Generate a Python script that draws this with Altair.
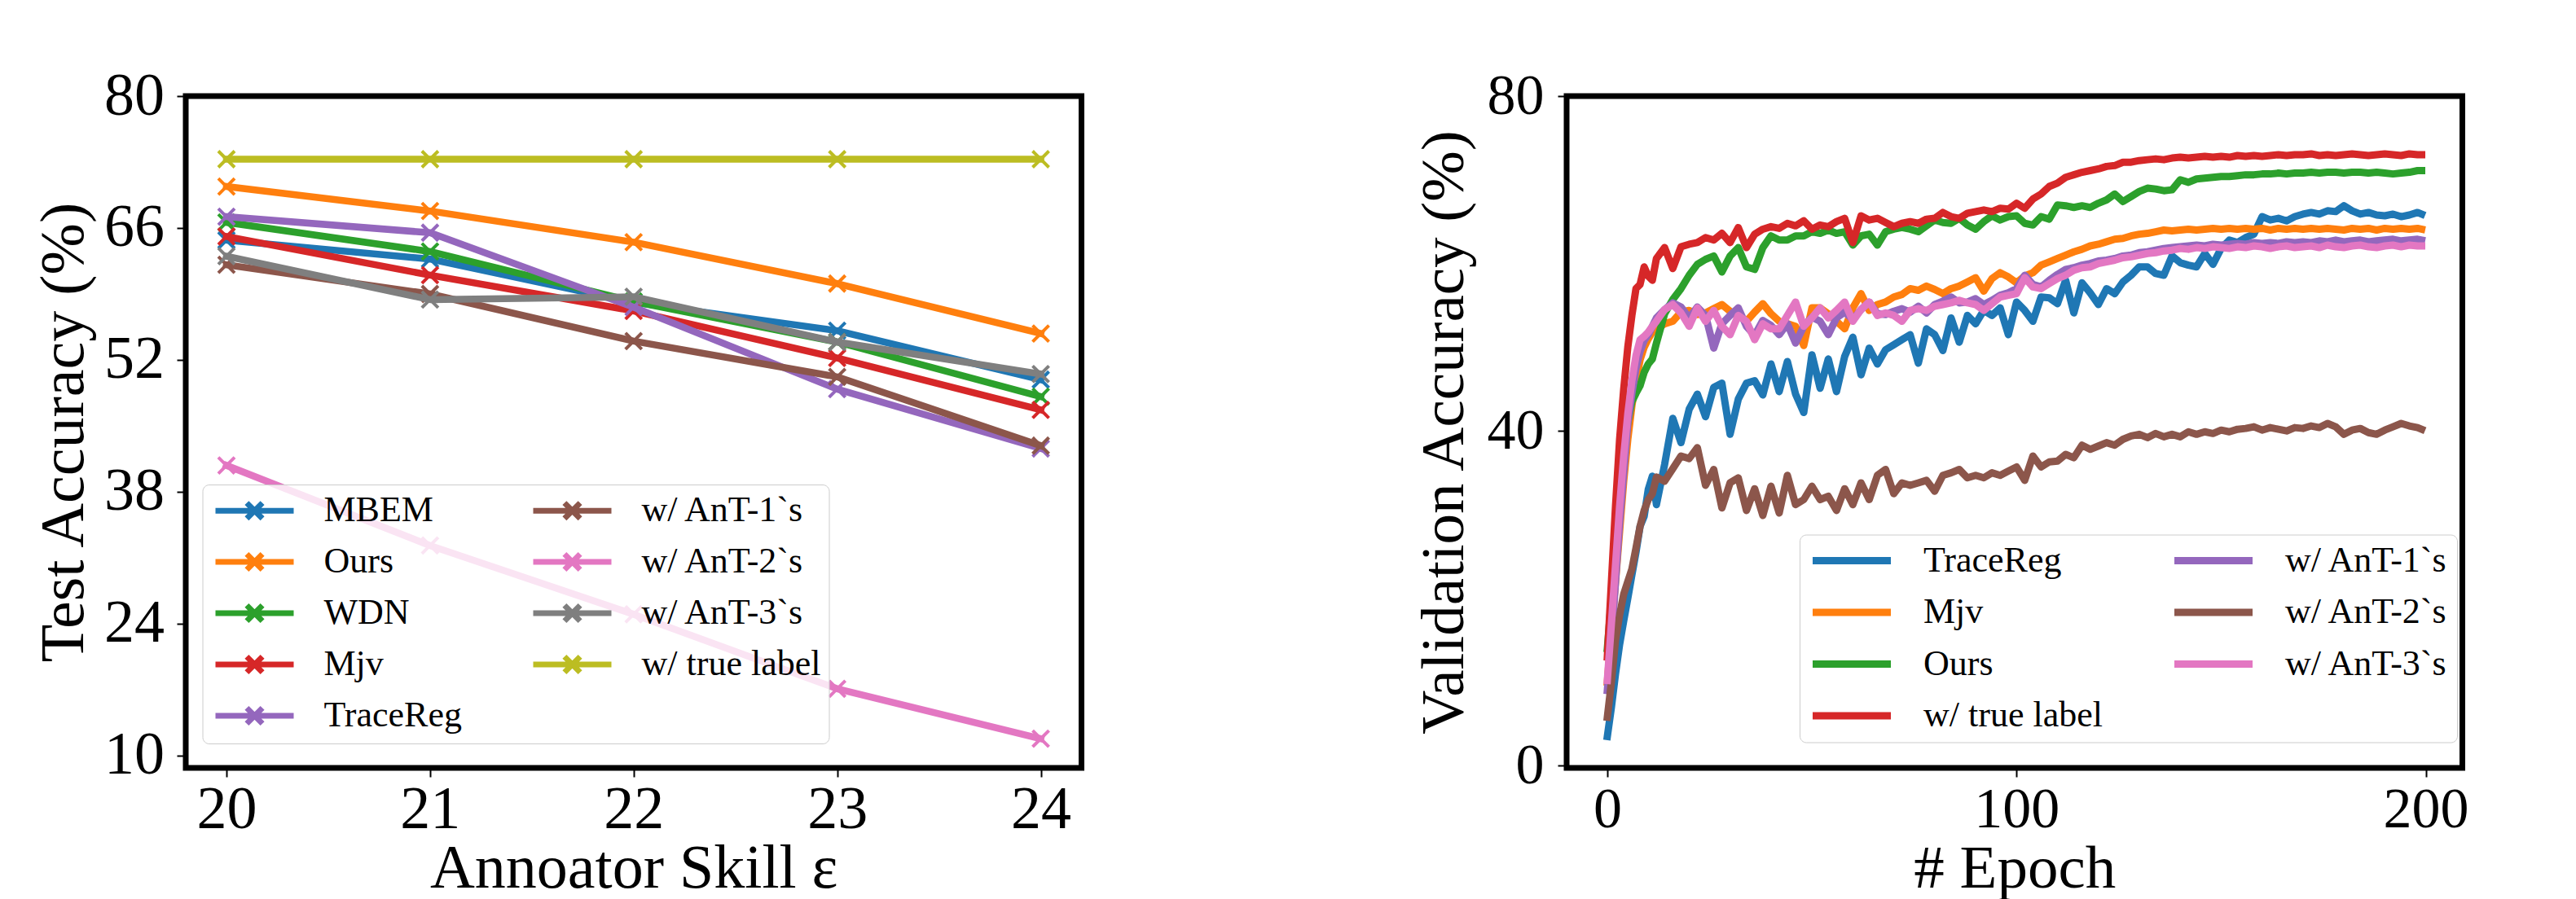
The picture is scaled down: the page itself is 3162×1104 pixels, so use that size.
import altair as alt
import pandas as pd

FONT = "Liberation Serif"

# ---------------- left panel data ----------------
skill = [20, 21, 22, 23, 24]
left_names = ["MBEM", "Ours", "WDN", "Mjv", "TraceReg",
              "w/ AnT-1`s", "w/ AnT-2`s", "w/ AnT-3`s", "w/ true label"]
left_colors = ["#1f77b4", "#ff7f0e", "#2ca02c", "#d62728", "#9467bd",
               "#8c564b", "#e377c2", "#7f7f7f", "#bcbd22"]
mbem_l = [64.7, 62.7, 58.1, 55.1, 49.9]
ours_l = [70.4, 67.8, 64.5, 60.1, 54.8]
wdn_l = [66.6, 63.5, 58.2, 53.9, 48.1]
mjv_l = [65.1, 61.0, 57.2, 52.2, 46.7]
tracereg_l = [67.2, 65.5, 57.6, 48.9, 42.6]
ant1_l = [62.1, 59.0, 54.0, 50.2, 42.9]
ant2_l = [40.8, 32.3, 25.0, 17.1, 11.8]
ant3_l = [63.0, 58.4, 58.7, 53.9, 50.5]
true_l = [73.3, 73.3, 73.3, 73.3, 73.3]
left_values = [mbem_l, ours_l, wdn_l, mjv_l, tracereg_l, ant1_l, ant2_l, ant3_l, true_l]
left_ticks_y = [10, 24, 38, 52, 66, 80]

# ---------------- right panel data ----------------
epochs = [0, 1, 2, 3, 4, 5, 6, 7, 8, 9, 10, 11,
          12, 14, 16, 18, 20, 22, 24, 26, 28, 30,
          32, 34, 36, 38, 40, 42, 44, 46, 48, 50,
          52, 54, 56, 58, 60, 62, 64, 66, 68, 70,
          72, 74, 76, 78, 80, 82, 84, 86, 88, 90,
          92, 94, 96, 98, 100, 102, 104, 106, 108, 110,
          112, 114, 116, 118, 120, 122, 124, 126, 128, 130,
          132, 134, 136, 138, 140, 142, 144, 146, 148, 150,
          152, 154, 156, 158, 160, 162, 164, 166, 168, 170,
          172, 174, 176, 178, 180, 182, 184, 186, 188, 190,
          192, 194, 196, 198, 199]
right_names = ["TraceReg", "Mjv", "Ours", "w/ true label",
               "w/ AnT-1`s", "w/ AnT-2`s", "w/ AnT-3`s"]
right_colors = ["#1f77b4", "#ff7f0e", "#2ca02c", "#d62728",
                "#9467bd", "#8c564b", "#e377c2"]
tracereg_r = [3.5, 7, 11, 14.5, 17.3, 20, 22.8, 25.5, 28.6, 29.8, 33, 34.6,
              31.2, 36, 41.5, 38.6, 42.6, 44.4, 41.7, 45.2, 45.7, 39.6,
              43.8, 45.7, 46, 44.3, 48, 44.7, 48.3, 44.4, 42.2, 49.1,
              45.1, 48.6, 44.7, 48.9, 51.2, 46.7, 49.9, 48, 49.7, 50.3,
              50.9, 51.5, 48.1, 52.2, 51.5, 49.6, 53.5, 50.6, 53.8, 52.8,
              54.4, 53.8, 54.7, 51.5, 55.4, 54.4, 53.1, 56, 55.9, 55.2,
              58, 54.1, 57.7, 56.5, 55.1, 57, 56.4, 57.8, 58.6, 59.6,
              59.6, 58.8, 58.6, 60.9, 60.1, 59.8, 59.6, 61.2, 59.9, 61.8,
              62.8, 62.5, 63.1, 63.5, 65.6, 65.2, 65.4, 65.1, 65.6, 65.9,
              66.1, 65.9, 66.3, 66.2, 66.9, 66.3, 65.9, 66.1, 65.8, 65.7,
              65.9, 65.6, 65.8, 66.1, 65.9]
mjv_r = [10, 16, 22, 28, 34, 39, 43, 46, 48.5, 50, 51, 51.8,
         52.2, 52.8, 53.1, 54.2, 54.4, 53.9, 54.1, 54.6, 55.1, 54.3,
         53.8, 53.1, 54.2, 55.2, 54, 53.1, 52.8, 52.5, 50.2, 54.7,
         54.7, 54, 53.1, 52.2, 54.7, 56.4, 54.4, 55.1, 55.4, 56,
         56.3, 57, 56.8, 57.3, 56.9, 56.4, 57, 57.3, 57.8, 58.3,
         56.7, 58.2, 58.9, 58.4, 57.7, 58.5, 58.9, 59.8, 60.2, 60.6,
         61, 61.4, 61.7, 62.1, 62.3, 62.6, 62.9, 63, 63.3, 63.5,
         63.6, 63.8, 64, 63.9, 64, 64.1, 64, 64.1, 64.2, 64.1,
         64.2, 64.1, 64.2, 64.1, 64.2, 64.0, 64.2, 64.1, 64.2, 64.1,
         64.2, 64.1, 64.2, 64.1, 64.0, 64.2, 64.1, 64.2, 64.0, 64.2,
         64.1, 64.2, 64.1, 64.2, 64.1]
ours_r = [14, 20, 26, 32, 37, 41, 43.5, 44.5, 45.4, 47, 48, 48.6,
          50.5, 54, 55.7, 57, 58.6, 59.9, 60.5, 60.9, 59, 60.9,
          61.9, 59.6, 59.3, 61.9, 63.3, 62.8, 62.8, 63.3, 63.3, 63.8,
          63.6, 64, 63.6, 63.8, 62.2, 63.3, 63.5, 62.2, 63.8, 64.1,
          64.3, 64.1, 63.8, 64.5, 65.2, 64.9, 64.8, 65.4, 64.6, 64.1,
          65, 65.7, 65.2, 65.6, 65.7, 64.8, 64.6, 65.6, 65.3, 67,
          66.9, 66.7, 66.9, 66.7, 67.2, 67.6, 68.3, 67.4, 68, 68.6,
          69, 68.9, 68.7, 68.8, 70, 69.7, 70.1, 70.2, 70.3, 70.4,
          70.4, 70.5, 70.6, 70.6, 70.7, 70.7, 70.8, 70.7, 70.8, 70.8,
          70.9, 70.8, 70.9, 70.9, 70.8, 70.9, 70.9, 70.8, 70.9, 70.8,
          70.7, 70.8, 70.9, 71.1, 71.1]
true_r = [13, 22, 31, 39, 45, 50, 53.8, 57, 57.5, 59.6, 58.5, 58,
          60.6, 61.9, 59.4, 62, 62.3, 62.5, 63.1, 62.8, 63.6, 62.5,
          64.3, 61.9, 63.5, 64.1, 64.4, 64.2, 64.8, 64.5, 65.1, 64.1,
          64.6, 64.4, 65, 65.4, 62.5, 65.7, 65.2, 65.4, 64.9, 64.4,
          64.8, 65, 64.8, 65.3, 65.4, 66.1, 65.6, 65.4, 66, 66.2,
          66.4, 66.2, 66.6, 66.5, 67.2, 66.6, 67.7, 68.3, 69.2, 69.6,
          70.3, 70.6, 70.9, 71.1, 71.3, 71.6, 71.7, 72.1, 72.1, 72.3,
          72.4, 72.5, 72.4, 72.6, 72.7, 72.6, 72.7, 72.8, 72.7, 72.8,
          72.7, 72.9, 72.8, 72.9, 72.8, 72.9, 73.0, 72.9, 73.0, 73.0,
          73.1, 72.9, 73.0, 72.9, 73.0, 73.1, 73.0, 72.9, 73.0, 73.1,
          73.0, 72.9, 73.1, 73.0, 73.0]
ant1_r = [9, 15, 22, 29, 35, 41, 44.5, 47.5, 49.5, 50.8, 51.5, 52.5,
          53.5, 54.5, 55.3, 54.8, 53.5, 54.8, 53.8, 49.9, 52.8, 53.8,
          54.7, 52.5, 51.4, 53.2, 52.6, 51.5, 52.8, 50.5, 52.5, 53.6,
          53.1, 51.5, 53.5, 54.2, 53.3, 54.5, 55.4, 54, 53.9, 54.3,
          54.6, 54.2, 54.9, 54.1, 55.1, 55.5, 56, 55.3, 55.4, 55.8,
          55.1, 55.6, 56.2, 56.5, 57, 58.6, 57.5, 57.2, 58, 58.7,
          59.3, 59.5, 59.8, 60, 60.3, 60.4, 60.6, 60.9, 61, 61.3,
          61.4, 61.6, 61.8, 61.9, 62, 62.1, 62.2, 62.1, 62.3, 62.2,
          62.3, 62.4, 62.3, 62.5, 62.4, 62.5, 62.4, 62.6, 62.5, 62.6,
          62.5, 62.7, 62.6, 62.8, 62.6, 62.7, 62.8, 62.6, 62.7, 62.8,
          62.9, 62.7, 62.8, 62.9, 62.8]
ant2_r = [5.8, 10, 15, 18, 20.5, 22, 23.5, 26, 28.6, 30.5, 31.8, 32.5,
          34.5, 34, 35.5, 37, 36.7, 38, 33.5, 35.4, 30.8, 33.8,
          34.4, 30.5, 33.1, 29.9, 33.4, 30.2, 34.7, 31.2, 31.8, 33.4,
          31.8, 32.2, 30.5, 33.1, 31.2, 33.8, 31.8, 34.7, 35.4, 32.5,
          33.8, 33.5, 33.8, 34.1, 32.8, 34.7, 35, 35.4, 34.4, 34.7,
          34.4, 35, 34.7, 35.2, 35.7, 34.1, 37, 35.7, 36.3, 36.4,
          37.2, 36.8, 38.3, 37.8, 38.2, 38.6, 38.3, 39, 39.4, 39.6,
          39.2, 39.7, 39.3, 39.6, 39.3, 39.9, 39.6, 39.9, 39.7, 40.1,
          39.9, 40.2, 40.3, 40.5, 40.1, 40.4, 40.2, 40, 40.4, 40.3,
          40.6, 40.4, 40.9, 40.5, 39.6, 40.1, 40.3, 39.8, 39.6, 40.1,
          40.5, 40.9, 40.6, 40.4, 40.2]
ant3_r = [10.2, 17, 24, 31, 37, 42, 46, 49, 50.9, 51.3, 51.8, 52.5,
          53.1, 54.5, 55.1, 54.1, 52.5, 54.7, 53.1, 54.4, 52.5, 51.5,
          53.8, 53.1, 50.9, 52.8, 52.2, 52.2, 53.8, 55.4, 52.5, 53.5,
          54.7, 53.5, 54.4, 55.4, 53.1, 54.5, 55.4, 53.8, 54.1, 53.8,
          53.1, 54.4, 54.6, 54.4, 54.9, 55.1, 55.3, 55.6, 55.3, 55.1,
          54.4, 55.2, 56, 56.2, 56.4, 58.3, 57.2, 57, 57.6, 58.2,
          58.6, 59.2, 59.5, 59.6, 60, 60.2, 60.4, 60.7, 60.8, 61,
          61.2, 61.3, 61.5, 61.6, 61.8, 61.7, 61.9, 61.8, 62, 61.9,
          61.8, 62, 61.9, 62.1, 62, 61.8, 62, 62.1, 61.9, 62,
          62.1, 61.9, 62.2, 62, 61.9, 62.1, 62.2, 62, 61.9, 62.1,
          62.2, 62, 62.2, 62.1, 62.1]
right_values = [tracereg_r, mjv_r, ours_r, true_r, ant1_r, ant2_r, ant3_r]
right_ticks_x = [0, 100, 200]
right_ticks_y = [0, 40, 80]

# ---------------- tables ----------------
left_rows = []
for name, vals in zip(left_names, left_values):
    for s, v in zip(skill, vals):
        left_rows.append({"method": name, "skill": s, "acc": v})
left_df = pd.DataFrame(left_rows)

right_rows = []
for name, vals in zip(right_names, right_values):
    for e, v in zip(epochs, vals):
        right_rows.append({"model": name, "epoch": e, "val": v})
right_df = pd.DataFrame(right_rows)

XPATH = "M-1,-1L1,1M-1,1L1,-1"
# legend handles: symbol size 32px -> 16px per unit; line spans 0..96px of the entry
LEG_LEFT = "M-1,0L5,0M1.4,-0.6L2.6,0.6M1.4,0.6L2.6,-0.6"
LEG_RIGHT = "M-1,0L5,0"

W, H = 1099.5, 825

common_axis = dict(domain=False, grid=False, tickColor="black", tickWidth=2,
                   tickSize=11, labelColor="black", labelFont=FONT,
                   titleFont=FONT, titleFontWeight="normal", titleColor="black",
                   labelFlush=False, labelOverlap=False,
                   titleBaseline="alphabetic")

legend_common = dict(title=None, orient="none", columns=2,
                     symbolSize=1024, labelFont=FONT, labelFontSize=44,
                     labelColor="black", padding=10,
                     strokeColor="#cccccc", fillColor="rgba(255,255,255,0.8)",
                     cornerRadius=8, labelLimit=0, symbolFillColor="transparent")

left_color = alt.Color(
    "method:N",
    scale=alt.Scale(domain=left_names, range=left_colors),
    legend=alt.Legend(legendX=20.5, legendY=477, symbolType=LEG_LEFT,
                      symbolStrokeWidth=7, labelOffset=95, columnPadding=73,
                      rowPadding=15, **legend_common),
)
left_x = alt.X("skill:Q", scale=alt.Scale(domain=[19.8, 24.2], nice=False, zero=False),
               axis=alt.Axis(values=skill, format="d", title="Annoator Skill ε",
                             labelFontSize=74, titleFontSize=76, labelPadding=4,
                             titleX=W / 2, titleY=146, **common_axis))
left_y = alt.Y("acc:Q", scale=alt.Scale(domain=[8.7, 80], nice=False, zero=False),
               axis=alt.Axis(values=left_ticks_y, format="d", title="Test Accuracy (%)",
                             labelFontSize=74, titleFontSize=76, labelPadding=15.5,
                             titleX=-127, titleY=H / 2, **common_axis))

left_layers = []
for name in left_names:
    left_layers.append(
        alt.Chart(left_df)
        .transform_filter(alt.datum.method == name)
        .mark_line(strokeWidth=8.5, strokeJoin="round", strokeCap="square",
                   point=alt.OverlayMarkDef(shape=XPATH, size=400, filled=False,
                                            strokeWidth=4))
        .encode(x=left_x, y=left_y, color=left_color)
    )
left_chart = alt.layer(*left_layers).properties(width=W, height=H)

right_color = alt.Color(
    "model:N",
    scale=alt.Scale(domain=right_names, range=right_colors),
    legend=alt.Legend(legendX=286, legendY=538.5, symbolType=LEG_RIGHT,
                      symbolStrokeWidth=9, labelOffset=98, columnPadding=70,
                      rowPadding=19.5, **legend_common),
)
right_x = alt.X("epoch:Q", scale=alt.Scale(domain=[-9.95, 208.95], nice=False, zero=False),
                axis=alt.Axis(values=right_ticks_x, format="d", title="# Epoch",
                              labelFontSize=70, titleFontSize=75, labelPadding=6,
                              titleX=W / 2, titleY=146, **common_axis))
right_y = alt.Y("val:Q", scale=alt.Scale(domain=[-0.25, 80], nice=False, zero=False),
                axis=alt.Axis(values=right_ticks_y, format="d",
                              title="Validation Accuracy (%)",
                              labelFontSize=70, titleFontSize=75, labelPadding=17,
                              titleX=-128, titleY=H / 2, **common_axis))

right_layers = []
for name in right_names:
    right_layers.append(
        alt.Chart(right_df)
        .transform_filter(alt.datum.model == name)
        .mark_line(strokeWidth=9, strokeJoin="round", strokeCap="square")
        .encode(x=right_x, y=right_y, color=right_color)
    )
right_chart = alt.layer(*right_layers).properties(width=W, height=H)

chart = (
    alt.hconcat(left_chart, right_chart, spacing=595, bounds="flush")
    .resolve_scale(color="independent")
    .properties(padding={"left": 28, "top": 69, "right": 5, "bottom": 5},
                background="white")
    .configure_view(stroke="black", strokeWidth=7)
)

chart.save("out.html", embed_options={"renderer": "svg", "actions": False})
